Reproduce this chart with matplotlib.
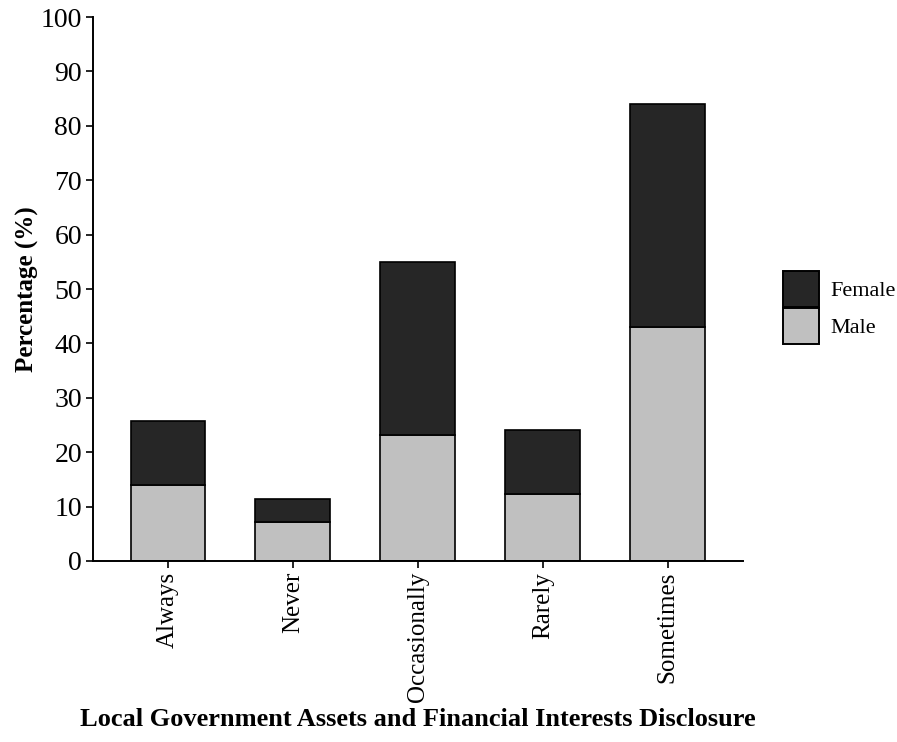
import numpy as np
import matplotlib.pyplot as plt
from matplotlib.patches import Patch

plt.rcParams['font.family'] = ['Liberation Serif', 'DejaVu Serif']

# ===== data =====
categories = ["Always", "Never", "Occasionally", "Rarely", "Sometimes"]
male = [13.9, 7.1, 23.1, 12.4, 43.1]
female_top = [25.7, 11.4, 54.9, 24.1, 84.0]   # stacked totals
female = [t - m for t, m in zip(female_top, male)]

COL_F = "#262626"
COL_M = "#C0C0C0"

fig = plt.figure(figsize=(8.97, 7.42), dpi=100)
ax = fig.add_axes([0.1037, 0.244, 0.7243, 0.733])

x = np.arange(1, len(categories) + 1)
ax.bar(x, male, width=0.6, color=COL_M, edgecolor="black", linewidth=1.2)
ax.bar(x, female, width=0.6, bottom=male, color=COL_F, edgecolor="black", linewidth=1.2)

ax.set_xlim(0.4, 5.6)
ax.set_ylim(0, 100)
ax.set_yticks(np.arange(0, 101, 10))
ax.set_xticks(x, categories, rotation=90)
ax.tick_params(axis="y", labelsize=20, length=5, width=1.2, colors="black", pad=3)
ax.tick_params(axis="x", labelsize=18, length=5, width=1.2, colors="black", pad=3)

for s in ["top", "right"]:
    ax.spines[s].set_visible(False)
for s in ["left", "bottom"]:
    ax.spines[s].set_linewidth(1.4)

ax.set_ylabel("Percentage (%)", fontsize=18, fontweight="bold", labelpad=1)
ax.set_xlabel("Local Government Assets and Financial Interests Disclosure",
              fontsize=19, fontweight="bold", labelpad=4)

handles = [Patch(facecolor=COL_F, edgecolor="black", linewidth=1.4, label="Female"),
           Patch(facecolor=COL_M, edgecolor="black", linewidth=1.4, label="Male")]
fig.legend(handles=handles, loc="center left", bbox_to_anchor=(0.873, 0.586),
           frameon=False, fontsize=16, handlelength=1.6, handleheight=2.1,
           labelspacing=0.05, handletextpad=0.55, borderpad=0, borderaxespad=0)

fig.savefig("out.png", dpi=100)
